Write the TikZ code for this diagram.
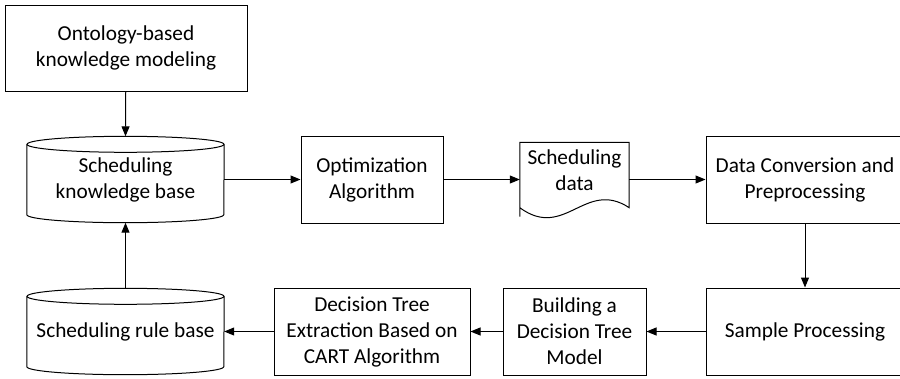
\documentclass[tikz,border=0pt]{standalone}
\usepackage{fontspec}
\setmainfont{Carlito}
\usetikzlibrary{arrows.meta}
\begin{document}
\begin{tikzpicture}[x=1pt,y=-1pt,
  every node/.style={font=\fontsize{21.3}{26}\selectfont, align=center, inner sep=0pt},
  box/.style={draw, line width=1pt, minimum height=87pt},
  ghost/.style={minimum height=86pt, minimum width=197pt},
  arr/.style={line width=1pt, -{Triangle[length=10pt,width=8pt]}}]
\useasboundingbox (0,0) rectangle (900,378);

% nodes
\node[box, minimum width=242pt, minimum height=86pt] (onto) at (126,48) {Ontology-based\\knowledge modeling};
\node[ghost] (kb) at (125.5,179.5) {Scheduling\\knowledge base};
\node[box, minimum width=142pt] (opt) at (372,179.5) {Optimization\\Algorithm};
\node[minimum width=109pt, minimum height=74pt] (doc) at (574.5,179.5) {};
\node (doctext) at (574.5,170) {Scheduling\\data};
\node[box, minimum width=198pt] (dc) at (805,179.5) {Data Conversion and\\Preprocessing};
\node[box, minimum width=198pt] (sp) at (805,331.5) {Sample Processing};
\node[box, minimum width=143pt] (build) at (574.5,331.5) {Building a\\Decision Tree\\Model};
\node[box, minimum width=196pt] (dt) at (372,331.5) {Decision Tree\\Extraction Based on\\CART Algorithm};
\node[ghost] (rule) at (125.5,331.5) {Scheduling rule base};

% cylinders
\foreach \c in {kb,rule}{
  \draw[line width=1pt] ([yshift=-8pt]\c.north) ellipse [x radius=98.5pt, y radius=8pt];
  \draw[line width=1pt] ([yshift=-8pt]\c.north west) -- ([yshift=8pt]\c.south west)
     arc[start angle=180, end angle=360, x radius=98.5pt, y radius=8pt]
     -- ([yshift=-8pt]\c.north east);
}

% document shape
\draw[line width=1pt] (doc.south west) -- (doc.north west) -- (doc.north east)
  -- ([yshift=9pt]doc.south east)
  .. controls ([xshift=-44pt,yshift=38pt]doc.south east) and ([xshift=45pt,yshift=-24pt]doc.south west)
  .. ([yshift=9pt]doc.south west) -- cycle;

% connectors
\draw[arr] (onto) -- (kb.north);
\draw[arr] (kb.east) -- (opt.west);
\draw[arr] (opt.east) -- (doc.west);
\draw[arr] (doc.east) -- (dc.west);
\draw[arr] (dc.south) -- (sp.north);
\draw[arr] (sp.west) -- (build.east);
\draw[arr] (build.west) -- (dt.east);
\draw[arr] (dt.west) -- (rule.east);
\draw[arr] (rule.north) -- (kb.south);
\end{tikzpicture}
\end{document}
